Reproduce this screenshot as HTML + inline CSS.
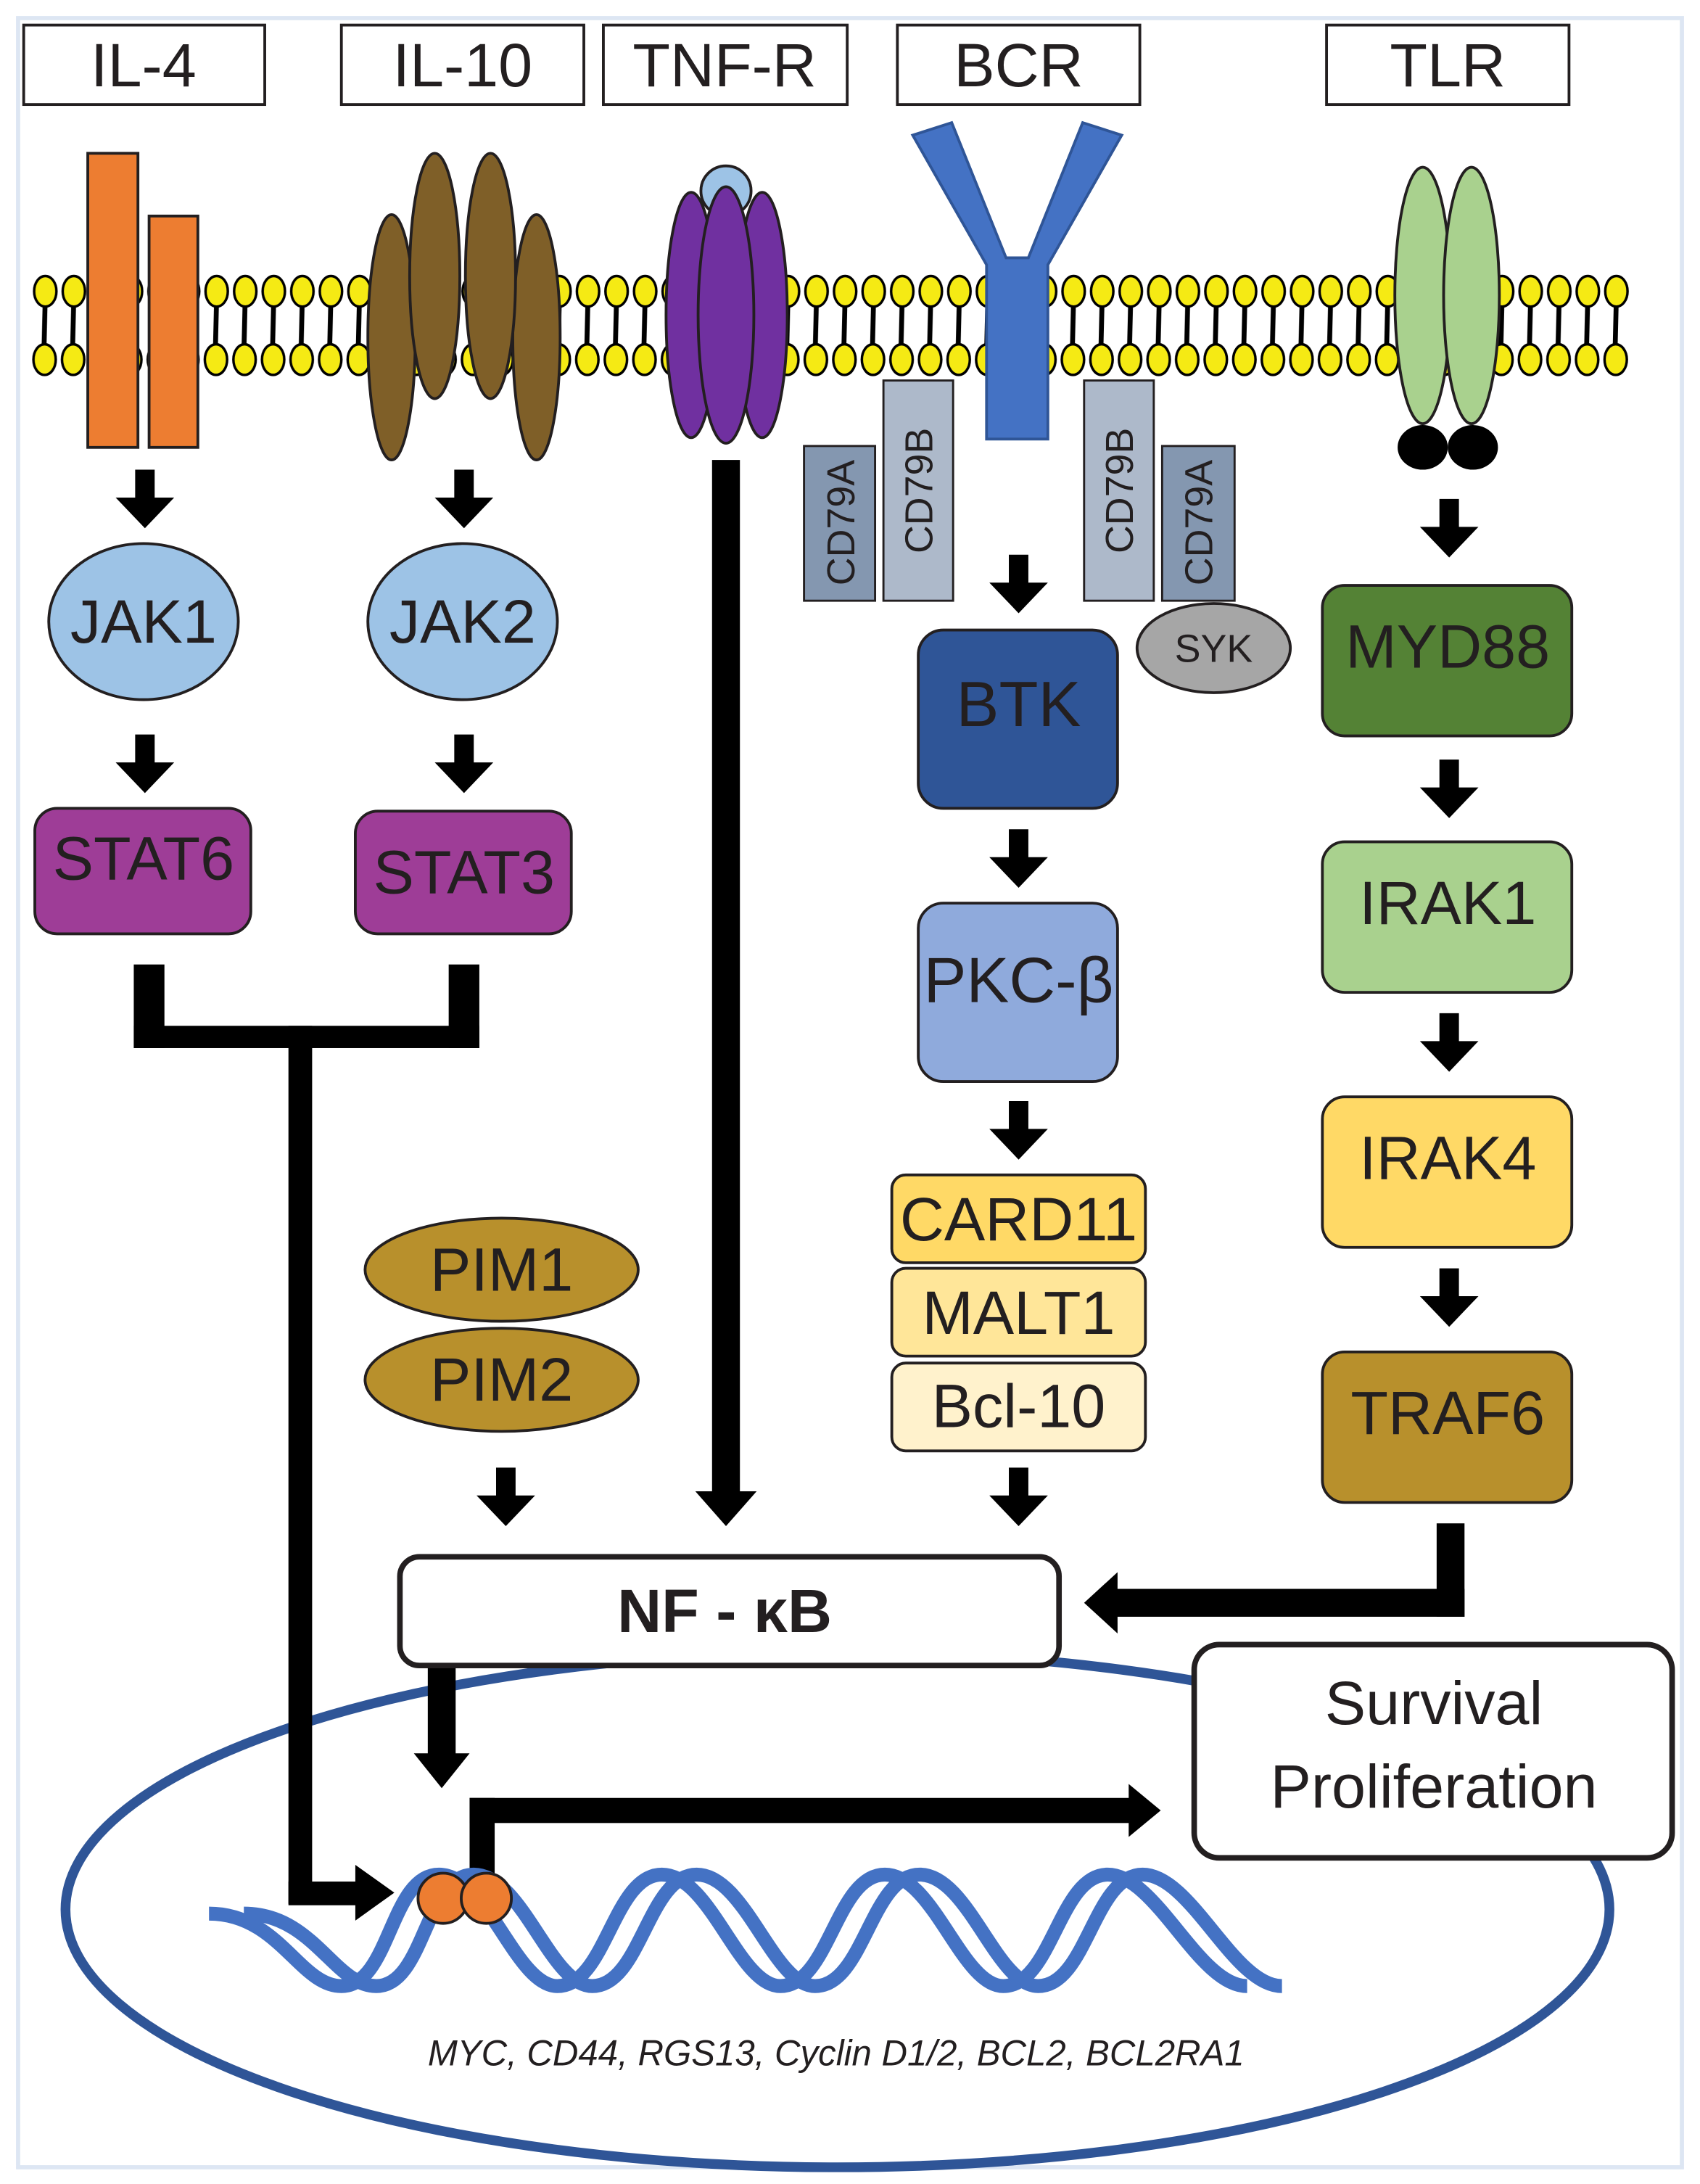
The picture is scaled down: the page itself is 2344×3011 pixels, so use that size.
<!DOCTYPE html>
<html><head><meta charset="utf-8"><style>
html,body{margin:0;padding:0;background:#fff}
svg{display:block}
text{font-family:"Liberation Sans",Arial,sans-serif}
</style></head><body>
<svg width="2344" height="3011" viewBox="0 0 1220 1567" preserveAspectRatio="none" xmlns="http://www.w3.org/2000/svg">
<defs>
<pattern id="lip" x="22" y="0" width="20.5" height="1567" patternUnits="userSpaceOnUse">
<path d="M10.5 212 L9.5 254" stroke="#000" stroke-width="3.5" fill="none"/>
<ellipse cx="10.5" cy="209" rx="8" ry="11" fill="#f5ea14" stroke="#000" stroke-width="1.8"/>
<ellipse cx="10" cy="258" rx="8" ry="11" fill="#f5ea14" stroke="#000" stroke-width="1.8"/>
</pattern>
<g id="ad"><path d="M-7 0 H7 V20 H21 L0 42 L-21 20 H-7 Z" fill="#000"/></g>
</defs>
<rect x="0" y="0" width="1220" height="1567" fill="#fff"/>
<rect x="13" y="13" width="1194" height="1542" fill="none" stroke="#dde6f3" stroke-width="3"/>

<g fill="#fff" stroke="#231f20" stroke-width="2">
<rect x="17" y="18" width="173" height="57"/><rect x="245" y="18" width="174" height="57"/>
<rect x="433" y="18" width="175" height="57"/><rect x="644" y="18" width="174" height="57"/>
<rect x="952" y="18" width="174" height="57"/></g>
<g font-size="44" text-anchor="middle" fill="#231f20">
<text x="103" y="62">IL-4</text><text x="332" y="62">IL-10</text><text x="520" y="62">TNF-R</text>
<text x="731" y="62">BCR</text><text x="1039" y="62">TLR</text></g>

<rect x="22" y="190" width="1148" height="85" fill="url(#lip)"/>

<g fill="#ed7d31" stroke="#231f20" stroke-width="2">
<rect x="63" y="110" width="36" height="211"/><rect x="107" y="155" width="35" height="166"/></g>
<g fill="#7f5f28" stroke="#231f20" stroke-width="2">
<ellipse cx="281" cy="242" rx="17" ry="88"/><ellipse cx="385" cy="242" rx="17" ry="88"/>
<ellipse cx="312" cy="198" rx="18" ry="88"/><ellipse cx="352" cy="198" rx="18" ry="88"/></g>
<circle cx="521" cy="137" r="18" fill="#9dc3e6" stroke="#231f20" stroke-width="2"/>
<g fill="#7030a0" stroke="#231f20" stroke-width="2">
<ellipse cx="496" cy="226" rx="18" ry="88"/><ellipse cx="547" cy="226" rx="18" ry="88"/>
<ellipse cx="521" cy="226" rx="20" ry="92"/></g>
<path d="M655 97 L683 88 L722 185 L738 185 L777 88 L805 97 L752 190 L752 315 L708 315 L708 190 Z" fill="#4472c4" stroke="#2f5597" stroke-width="2"/>
<g stroke="#231f20" stroke-width="1.5">
<rect x="577" y="320" width="51" height="111" fill="#8497b0"/><rect x="634" y="273" width="50" height="158" fill="#adb9ca"/>
<rect x="778" y="273" width="50" height="158" fill="#adb9ca"/><rect x="834" y="320" width="52" height="111" fill="#8497b0"/></g>
<g font-size="28" fill="#231f20" text-anchor="middle">
<text transform="translate(613,375) rotate(-90)">CD79A</text>
<text transform="translate(669,352) rotate(-90)">CD79B</text>
<text transform="translate(813,352) rotate(-90)">CD79B</text>
<text transform="translate(870,375) rotate(-90)">CD79A</text></g>
<ellipse cx="871" cy="465" rx="55" ry="32" fill="#a6a6a6" stroke="#231f20" stroke-width="2"/>
<text x="871" y="475" font-size="28" text-anchor="middle" fill="#231f20">SYK</text>
<g fill="#a9d18e" stroke="#231f20" stroke-width="2">
<ellipse cx="1021" cy="212" rx="20" ry="92"/><ellipse cx="1056" cy="212" rx="20" ry="92"/></g>
<ellipse cx="1021" cy="321" rx="18" ry="16" fill="#000"/><ellipse cx="1057" cy="321" rx="18" ry="16" fill="#000"/>

<g stroke="#231f20" stroke-width="2">
<ellipse cx="103" cy="446" rx="68" ry="56" fill="#9dc3e6"/><ellipse cx="332" cy="446" rx="68" ry="56" fill="#9dc3e6"/>
<rect x="25" y="580" width="155" height="90" rx="16" fill="#9e3d97"/><rect x="255" y="582" width="155" height="88" rx="16" fill="#9e3d97"/>
<rect x="659" y="452" width="143" height="128" rx="18" fill="#2f5597"/>
<rect x="659" y="648" width="143" height="128" rx="18" fill="#8faadc"/>
<rect x="640" y="843" width="182" height="63" rx="10" fill="#ffd966"/>
<rect x="640" y="910" width="182" height="63" rx="10" fill="#ffe699"/>
<rect x="640" y="978" width="182" height="63" rx="10" fill="#fff2cc"/>
<rect x="949" y="420" width="179" height="108" rx="16" fill="#548235"/>
<rect x="949" y="604" width="179" height="108" rx="16" fill="#a9d18e"/>
<rect x="949" y="787" width="179" height="108" rx="16" fill="#ffd966"/>
<rect x="949" y="970" width="179" height="108" rx="16" fill="#b8902c"/>
<ellipse cx="360" cy="911" rx="98" ry="37" fill="#b8902c"/><ellipse cx="360" cy="990" rx="98" ry="37" fill="#b8902c"/>
</g>
<g font-size="44" text-anchor="middle" fill="#231f20">
<text x="103" y="461">JAK1</text><text x="332" y="461">JAK2</text>
<text x="103" y="631">STAT6</text><text x="333" y="641">STAT3</text>
<text x="731" y="521" font-size="46">BTK</text><text x="731" y="719" font-size="46">PKC-β</text>
<text x="731" y="890">CARD11</text><text x="731" y="957">MALT1</text><text x="731" y="1024">Bcl-10</text>
<text x="1039" y="479">MYD88</text><text x="1039" y="663">IRAK1</text><text x="1039" y="846">IRAK4</text><text x="1039" y="1029">TRAF6</text>
<text x="360" y="926">PIM1</text><text x="360" y="1005">PIM2</text></g>

<use href="#ad" x="104" y="337"/><use href="#ad" x="333" y="337"/>
<use href="#ad" x="104" y="527"/><use href="#ad" x="333" y="527"/>
<use href="#ad" x="731" y="398"/><use href="#ad" x="731" y="595"/><use href="#ad" x="731" y="790"/><use href="#ad" x="731" y="1053"/>
<use href="#ad" x="1040" y="358"/><use href="#ad" x="1040" y="545"/><use href="#ad" x="1040" y="727"/><use href="#ad" x="1040" y="910"/>
<use href="#ad" x="363" y="1053"/>

<ellipse cx="601" cy="1370" rx="554" ry="185" fill="none" stroke="#2f5597" stroke-width="7"/>

<g fill="#000">
<rect x="96" y="692" width="22" height="60"/><rect x="322" y="692" width="22" height="60"/>
<rect x="96" y="736" width="248" height="16"/>
<rect x="207" y="736" width="17" height="630"/>
<rect x="207" y="1350" width="50" height="17"/>
<path d="M255 1338 L283 1358 L255 1378 Z"/>
<rect x="511" y="330" width="20" height="745"/>
<path d="M499 1070 L543 1070 L521 1095 Z"/>
<rect x="1031" y="1093" width="20" height="67"/>
<rect x="800" y="1140" width="251" height="20"/>
<path d="M802 1128 L778 1150 L802 1172 Z"/>
<rect x="307" y="1195" width="20" height="65"/>
<path d="M297 1258 L337 1258 L317 1283 Z"/>
<rect x="337" y="1290" width="18" height="62"/>
<rect x="337" y="1290" width="475" height="18"/>
<path d="M810 1280 L833 1299 L810 1318 Z"/>
</g>

<rect x="287" y="1117" width="473" height="78" rx="14" fill="#fff" stroke="#231f20" stroke-width="4"/>
<text x="520" y="1171" font-size="44" font-weight="bold" text-anchor="middle" fill="#231f20">NF - κB</text>
<rect x="857" y="1180" width="343" height="153" rx="18" fill="#fff" stroke="#231f20" stroke-width="4"/>
<g font-size="44" text-anchor="middle" fill="#231f20"><text x="1029" y="1237">Survival</text><text x="1029" y="1297">Proliferation</text></g>

<g fill="none" stroke="#4472c4" stroke-width="10">
<path d="M150 1373 C200 1373 215 1425 245 1425 C280 1425 280 1345 315 1345 C350 1345 370 1425 400 1425 C435 1425 440 1345 475 1345 C510 1345 530 1425 560 1425 C595 1425 600 1345 635 1345 C670 1345 690 1425 720 1425 C755 1425 760 1345 795 1345 C830 1345 860 1425 895 1425"/>
<path d="M175 1373 C225 1373 240 1425 270 1425 C305 1425 305 1345 340 1345 C375 1345 395 1425 425 1425 C460 1425 465 1345 500 1345 C535 1345 555 1425 585 1425 C620 1425 625 1345 660 1345 C695 1345 715 1425 745 1425 C780 1425 785 1345 820 1345 C855 1345 885 1425 920 1425"/>
</g>
<g fill="#ed7d31" stroke="#231f20" stroke-width="2"><circle cx="318" cy="1362" r="18"/><circle cx="349" cy="1362" r="18"/></g>
<text x="600" y="1482" font-size="26" font-style="italic" text-anchor="middle" fill="#231f20" textLength="586" lengthAdjust="spacingAndGlyphs">MYC, CD44, RGS13, Cyclin D1/2, BCL2, BCL2RA1</text>
</svg>
</body></html>
